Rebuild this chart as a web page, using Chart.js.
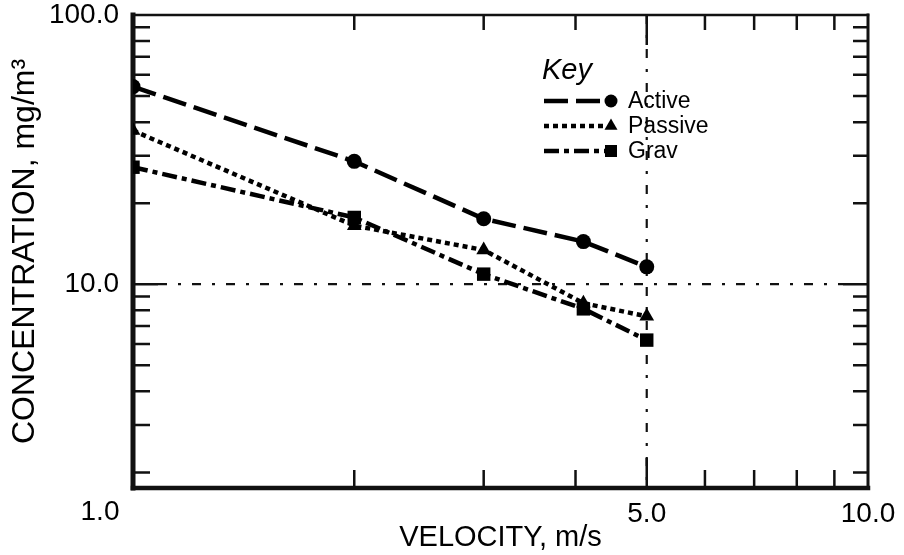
<!DOCTYPE html>
<html>
<head>
<meta charset="utf-8">
<script src="https://cdn.jsdelivr.net/npm/chart.js@4.4.1/dist/chart.umd.min.js"></script>
<style>
  html, body { margin: 0; padding: 0; background: #fff; }
  canvas { display: block; }
</style>
</head>
<body>
<canvas id="concChart" width="904" height="555"></canvas>
<script>
// velocity (m/s) and measured concentration (mg/m3) per sampler
const velocity = [1.0, 2.0, 3.0, 4.1, 5.0];
const active = [54.2, 28.6, 17.5, 14.4, 11.6];
const passive = [37.2, 16.5, 13.4, 8.5, 7.6];
const grav = [27.2, 17.7, 10.9, 8.1, 6.2];
const seriesNames = ['Active', 'Passive', 'Grav'];

// axis labels and tick marks
const xLabelValues = [5, 10];
const xCornerLabel = '1.0';
const yLabelValues = [10, 100];
const xMinorTicks = [2, 3, 4, 6, 7, 8, 9];
const yMinorTicks = [2, 3, 4, 5, 6, 7, 8, 9, 20, 30, 40, 50, 60, 70, 80, 90];

const FONT = 'Liberation Sans, Arial, sans-serif';

const lineStyles = [
    { dash: [24, 8], point: 'circle', radius: 7.5 },
    { dash: [5, 4], point: 'triangle', radius: 8.5 },
    { dash: [15, 5, 5, 5], point: 'rect', radius: 9.5 }
];

// frame, inner ticks and the dash-dot reference lines
const framePlugin = {
    id: 'frame',
    beforeDatasetsDraw(chart) {
        const { ctx, chartArea: a, scales: { x, y } } = chart;
        ctx.save();
        ctx.strokeStyle = '#111';

        // reference lines at x = 5 and y = 10
        ctx.lineWidth = 2.2;
        ctx.setLineDash([9, 11, 3, 11]);
        const gx = x.getPixelForValue(5);
        ctx.beginPath(); ctx.moveTo(gx, a.top); ctx.lineTo(gx, a.bottom); ctx.stroke();
        const gy = y.getPixelForValue(10);
        ctx.beginPath(); ctx.moveTo(a.left + 25, gy); ctx.lineTo(a.right - 25, gy); ctx.stroke();
        ctx.setLineDash([]);

        // ticks
        ctx.lineWidth = 2.5;
        xMinorTicks.concat([5]).forEach(function (v) {
            const px = x.getPixelForValue(v);
            const big = v === 5;
            ctx.beginPath();
            ctx.moveTo(px, a.bottom); ctx.lineTo(px, a.bottom - (big ? 30 : 18));
            ctx.moveTo(px, a.top); ctx.lineTo(px, a.top + (big ? 30 : 15));
            ctx.stroke();
        });
        yMinorTicks.concat([10]).forEach(function (v) {
            const py = y.getPixelForValue(v);
            const big = v === 10;
            ctx.beginPath();
            ctx.moveTo(a.left, py); ctx.lineTo(a.left + (big ? 25 : 17), py);
            ctx.moveTo(a.right, py); ctx.lineTo(a.right - (big ? 25 : 15), py);
            ctx.stroke();
        });

        // frame: heavy left and bottom, lighter top and right
        ctx.lineCap = 'square';
        ctx.lineWidth = 2.5;
        ctx.beginPath(); ctx.moveTo(a.left, a.top); ctx.lineTo(a.right, a.top); ctx.stroke();
        ctx.lineWidth = 3;
        ctx.beginPath(); ctx.moveTo(a.right, a.top); ctx.lineTo(a.right, a.bottom); ctx.stroke();
        ctx.lineWidth = 5;
        ctx.beginPath(); ctx.moveTo(a.left, a.top); ctx.lineTo(a.left, a.bottom); ctx.stroke();
        ctx.lineWidth = 4.5;
        ctx.beginPath(); ctx.moveTo(a.left, a.bottom); ctx.lineTo(a.right, a.bottom); ctx.stroke();

        // shared corner label for x = 1
        ctx.fillStyle = '#000';
        ctx.font = '28px ' + FONT;
        ctx.textAlign = 'center';
        ctx.textBaseline = 'middle';
        ctx.fillText(xCornerLabel, x.getPixelForValue(1) - 33, a.bottom + 24);
        ctx.restore();
    }
};

// "Key" box inside the plot
const keyPlugin = {
    id: 'key',
    afterDatasetsDraw(chart) {
        const ctx = chart.ctx;
        ctx.save();
        ctx.fillStyle = '#000';
        ctx.font = 'italic 29px ' + FONT;
        ctx.textBaseline = 'alphabetic';
        ctx.fillText('Key', 542, 79);
        ctx.font = '23px ' + FONT;
        ctx.textBaseline = 'middle';
        chart.data.datasets.forEach(function (ds, i) {
            const yy = 101 + i * 25;
            ctx.strokeStyle = '#000';
            ctx.lineWidth = ds.borderWidth;
            ctx.setLineDash(ds.borderDash);
            ctx.beginPath(); ctx.moveTo(544, yy); ctx.lineTo(606, yy); ctx.stroke();
            ctx.setLineDash([]);
            ctx.fillStyle = '#000';
            Chart.helpers.drawPoint(ctx, { pointStyle: ds.pointStyle, radius: ds.pointRadius - 1, rotation: 0, borderWidth: 0 }, 611, yy);
            ctx.fillText(ds.label, 628, yy + 1);
        });
        ctx.restore();
    }
};

const series = [active, passive, grav];

const chart = new Chart(document.getElementById('concChart'), {
    type: 'scatter',
    data: {
        datasets: seriesNames.map(function (name, i) {
            return {
                label: name,
                data: velocity.map(function (v, j) { return { x: v, y: series[i][j] }; }),
                showLine: true,
                borderColor: '#000',
                backgroundColor: '#000',
                borderWidth: 4.5,
                borderDash: lineStyles[i].dash,
                borderCapStyle: 'butt',
                pointStyle: lineStyles[i].point,
                pointRadius: lineStyles[i].radius,
                pointBorderWidth: 0,
                pointBackgroundColor: '#000'
            };
        })
    },
    options: {
        responsive: false,
        animation: false,
        devicePixelRatio: 1,
        layout: { padding: { top: 15, right: 36, left: 0, bottom: 0 } },
        plugins: { legend: { display: false }, tooltip: { enabled: false } },
        scales: {
            x: {
                type: 'logarithmic',
                min: 1,
                max: 10,
                afterBuildTicks: function (s) { s.ticks = xLabelValues.map(function (v) { return { value: v }; }); },
                afterFit: function (s) { s.height = 67; s.paddingLeft = 0; s.paddingRight = 0; },
                grid: { display: false, drawTicks: false },
                border: { display: false },
                ticks: {
                    autoSkip: false,
                    maxRotation: 0,
                    padding: 9,
                    color: '#000',
                    font: { family: FONT, size: 28 },
                    callback: function (v) { return Number(v).toFixed(1); }
                },
                title: {
                    display: true,
                    text: 'VELOCITY, m/s',
                    color: '#000',
                    font: { family: FONT, size: 29 },
                    padding: { top: 0, bottom: 0 }
                }
            },
            y: {
                type: 'logarithmic',
                min: 1.75,
                max: 100,
                afterBuildTicks: function (s) { s.ticks = yLabelValues.map(function (v) { return { value: v }; }); },
                afterFit: function (s) { s.width = 133; s.paddingTop = 0; s.paddingBottom = 0; },
                grid: { display: false, drawTicks: false },
                border: { display: false },
                ticks: {
                    autoSkip: false,
                    padding: 14,
                    color: '#000',
                    font: { family: FONT, size: 28 },
                    callback: function (v) { return Number(v).toFixed(1); }
                },
                title: {
                    display: true,
                    text: 'CONCENTRATION, mg/m³',
                    color: '#000',
                    font: { family: FONT, size: 32 },
                    padding: { top: 6, bottom: 0 }
                }
            }
        }
    },
    plugins: [framePlugin, keyPlugin]
});
</script>
</body>
</html>
